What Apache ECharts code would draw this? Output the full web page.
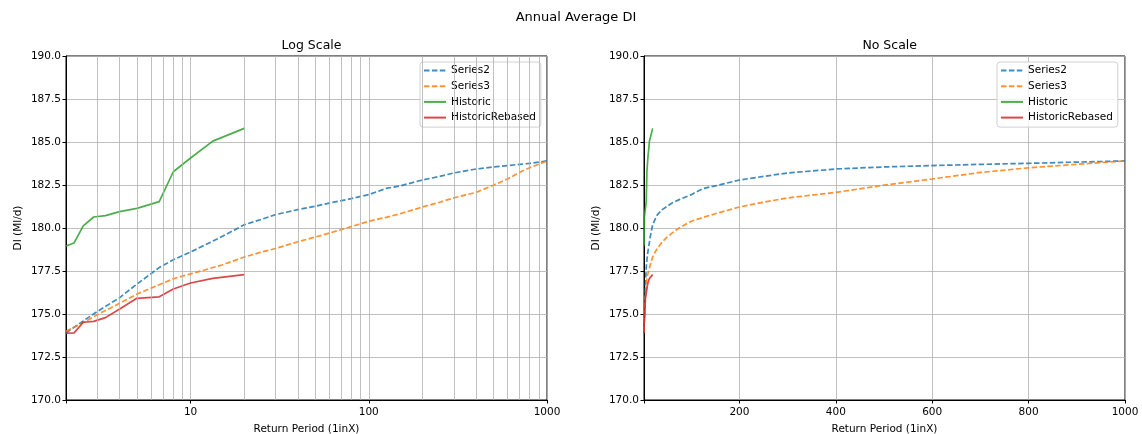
<!DOCTYPE html>
<html>
<head>
<meta charset="utf-8">
<script src="https://cdn.jsdelivr.net/npm/echarts@6/dist/echarts.min.js"></script>
<style>
html,body{margin:0;padding:0;background:#fff;}
#chart{width:1142px;height:434px;}
</style>
</head>
<body>
<div id="chart"></div>
<script>
// ---- Data ----
const modelReturnPeriods = [2, 2.5, 3, 4, 5, 6.67, 8, 10, 15, 20, 25, 30, 40, 50, 60, 75, 100, 125, 150, 200, 250, 300, 400, 500, 600, 700, 800, 1000];
const series2Values = [173.9, 174.6, 175.15, 175.95, 176.74, 177.7, 178.15, 178.6, 179.5, 180.19, 180.5, 180.78, 181.07, 181.26, 181.45, 181.65, 181.94, 182.3, 182.45, 182.79, 183.0, 183.2, 183.43, 183.55, 183.63, 183.7, 183.76, 183.9];
const series3Values = [174.0, 174.5, 174.96, 175.62, 176.16, 176.7, 177.05, 177.33, 177.85, 178.31, 178.6, 178.81, 179.2, 179.47, 179.7, 180.0, 180.39, 180.62, 180.83, 181.22, 181.5, 181.75, 182.07, 182.49, 182.85, 183.23, 183.5, 183.9];
const historicReturnPeriods = [2, 2.22, 2.5, 2.86, 3.33, 4, 5, 6.67, 8, 10, 13.33, 20];
const historicValues = [178.95, 179.13, 180.12, 180.64, 180.72, 180.95, 181.14, 181.53, 183.27, 184.07, 185.05, 185.79];
const historicRebasedValues = [173.88, 173.9, 174.52, 174.57, 174.79, 175.29, 175.91, 176.0, 176.45, 176.8, 177.07, 177.29];
const logMajorTicks = [10, 100, 1000];
const logMinorGrid = [3, 4, 5, 6, 7, 8, 9, 20, 30, 40, 50, 60, 70, 80, 90, 200, 300, 400, 500, 600, 700, 800, 900];
const seriesNames = ['Series2', 'Series3', 'Historic', 'HistoricRebased'];
const seriesColors = ['#1f77b4', '#ff7f0e', '#2ca02c', '#d62728'];

const pairs = (xs, ys) => xs.map((x, i) => [x, ys[i]]);
const FONT = 'DejaVu Sans';
const FS = 10.5;

function lineSeries(name, xs, ys, color, dashed, idx) {
  return {
    name: name, type: 'line', xAxisIndex: idx, yAxisIndex: idx,
    data: pairs(xs, ys), showSymbol: false, symbol: 'none', z: 3,
    lineStyle: { color: color, width: 1.7, opacity: 0.85, type: dashed ? [5.5, 2.4] : 'solid' },
    itemStyle: { color: color, opacity: 0.85 },
    emphasis: { disabled: true }, animation: false
  };
}

function buildSeries(idx) {
  return [
    lineSeries(seriesNames[0], modelReturnPeriods, series2Values, seriesColors[0], true, idx),
    lineSeries(seriesNames[1], modelReturnPeriods, series3Values, seriesColors[1], true, idx),
    lineSeries(seriesNames[2], historicReturnPeriods, historicValues, seriesColors[2], false, idx),
    lineSeries(seriesNames[3], historicReturnPeriods, historicRebasedValues, seriesColors[3], false, idx)
  ];
}

const yAxisCommon = {
  type: 'value', min: 170, max: 190, interval: 2.5,
  name: 'DI (Ml/d)', nameLocation: 'middle', nameGap: 42,
  nameTextStyle: { fontFamily: FONT, fontSize: FS, color: '#000' },
  axisLine: { show: true, lineStyle: { color: '#000', width: 1 } },
  axisTick: { show: true, length: 3.5, lineStyle: { color: '#000' } },
  axisLabel: { fontFamily: FONT, fontSize: FS, color: '#000', margin: 5, formatter: v => v.toFixed(1) },
  splitLine: { show: true, lineStyle: { color: '#b0b0b0', width: 0.8 } }
};

const legendCommon = {
  orient: 'vertical', data: seriesNames,
  padding: [2, 5, 3, 3], itemGap: 2.7, itemWidth: 22, itemHeight: 13,
  itemStyle: { opacity: 0, borderWidth: 0 },
  textStyle: { fontFamily: FONT, fontSize: FS, color: '#000', lineHeight: 13 },
  backgroundColor: 'rgba(255,255,255,0.8)', borderColor: '#d0d0d0', borderWidth: 1, borderRadius: 3,
  selectedMode: false
};

const gridCommon = { top: 56, bottom: 34, show: true, borderColor: '#000', borderWidth: 1,
  backgroundColor: 'transparent', containLabel: false, outerBoundsMode: 'none' };

const option = {
  animation: false,
  backgroundColor: '#fff',
  title: [
    { text: 'Annual Average DI', left: 571, top: 6, textAlign: 'center',
      textStyle: { fontFamily: FONT, fontSize: 13, fontWeight: 'normal', color: '#000' } },
    { text: 'Log Scale', left: 306.5, top: 34, textAlign: 'center',
      textStyle: { fontFamily: FONT, fontSize: 12.5, fontWeight: 'normal', color: '#000' } },
    { text: 'No Scale', left: 884.7, top: 34, textAlign: 'center',
      textStyle: { fontFamily: FONT, fontSize: 12.5, fontWeight: 'normal', color: '#000' } }
  ],
  legend: [
    Object.assign({}, legendCommon, { left: 420, top: 62 }),
    Object.assign({}, legendCommon, { left: 997, top: 62 })
  ],
  grid: [
    Object.assign({}, gridCommon, { left: 66, right: 595 }),
    Object.assign({}, gridCommon, { left: 644, right: 17 })
  ],
  xAxis: [
    { type: 'log', logBase: 10, min: 2, max: 1000, gridIndex: 0,
      name: 'Return Period (1inX)', nameLocation: 'middle', nameGap: 24,
      nameTextStyle: { fontFamily: FONT, fontSize: FS, color: '#000' },
      axisLine: { show: true, onZero: false, lineStyle: { color: '#000', width: 1 } },
      axisTick: { show: true, length: 3.5, lineStyle: { color: '#000' } },
      axisLabel: { fontFamily: FONT, fontSize: FS, color: '#000', margin: 7, showMinLabel: true, showMaxLabel: true,
        formatter: function (v) {
          const r = Math.round(v);
          return (logMajorTicks.indexOf(r) >= 0 && Math.abs(v - r) < 1e-6) ? String(r) : '';
        } },
      splitLine: { show: true, lineStyle: { color: '#b0b0b0', width: 0.8 } }
    },
    { type: 'value', min: 2, max: 1000, splitNumber: 5, gridIndex: 1,
      name: 'Return Period (1inX)', nameLocation: 'middle', nameGap: 24,
      nameTextStyle: { fontFamily: FONT, fontSize: FS, color: '#000' },
      axisLine: { show: true, onZero: false, lineStyle: { color: '#000', width: 1 } },
      axisTick: { show: true, length: 3.5, lineStyle: { color: '#000' } },
      axisLabel: { fontFamily: FONT, fontSize: FS, color: '#000', margin: 7, showMinLabel: true, showMaxLabel: true,
        formatter: function (v) { return (Math.abs(v % 200) < 1e-6 && v > 0) ? String(v) : ''; } },
      splitLine: { show: true, lineStyle: { color: '#b0b0b0', width: 0.8 } }
    }
  ],
  yAxis: [
    Object.assign({}, yAxisCommon, { gridIndex: 0 }),
    Object.assign({}, yAxisCommon, { gridIndex: 1 })
  ],
  series: [
    { name: 'minorGrid', type: 'line', xAxisIndex: 0, yAxisIndex: 0, data: [], z: 1, silent: true,
      markLine: { silent: true, symbol: ['none', 'none'], label: { show: false }, animation: false,
        emphasis: { disabled: true },
        lineStyle: { color: '#b0b0b0', width: 0.8, type: 'solid' },
        data: logMinorGrid.map(v => ({ xAxis: v })) } }
  ].concat(buildSeries(0), buildSeries(1))
};

const chart = echarts.init(document.getElementById('chart'), null, { renderer: 'canvas' });
chart.setOption(option);
</script>
</body>
</html>
